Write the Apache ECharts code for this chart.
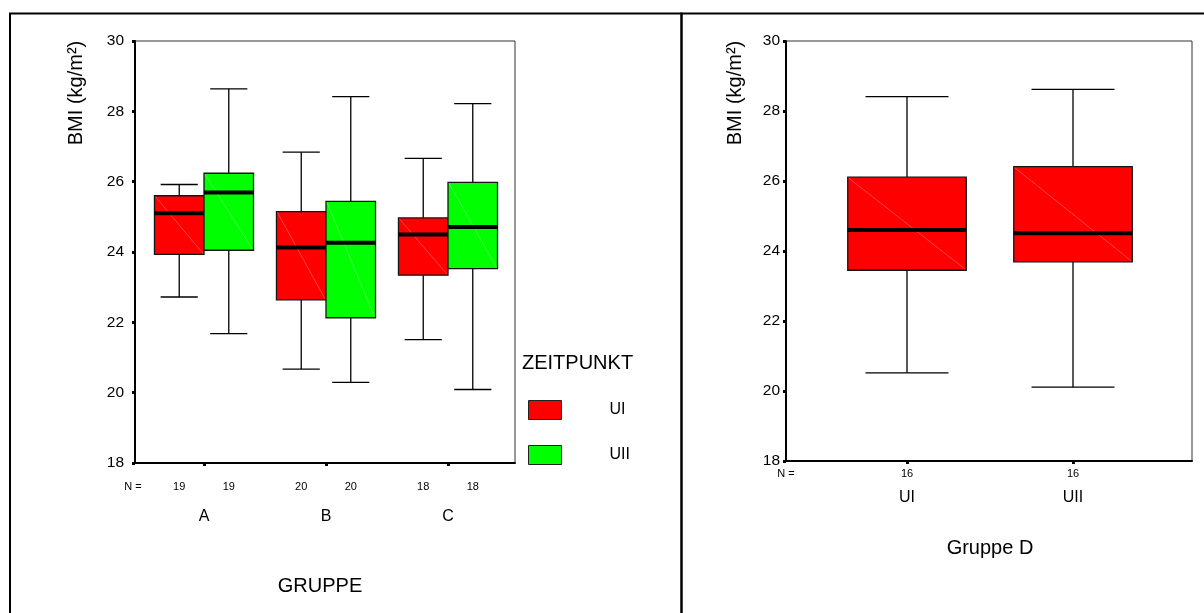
<!DOCTYPE html>
<html>
<head>
<meta charset="utf-8">
<script src="https://cdn.jsdelivr.net/npm/echarts@6/dist/echarts.min.js"></script>
<style>
  html, body { margin: 0; padding: 0; background: #fff; }
  #chart { width: 1204px; height: 613px; }
</style>
</head>
<body>
<div id="chart"></div>
<script>
// BMI by group (A, B, C) at two time points, plus group D on its own
const groups = ['A', 'B', 'C'];
// five-number summaries: [whisker low, Q1, median, Q3, whisker high]
const bmiUI  = [[22.72, 23.93, 25.10, 25.60, 25.92],
                [20.67, 22.64, 24.13, 25.15, 26.84],
                [21.51, 23.34, 24.50, 24.97, 26.66]];
const bmiUII = [[21.68, 24.05, 25.69, 26.24, 28.64],
                [20.29, 22.13, 24.26, 25.44, 28.42],
                [20.09, 23.53, 24.71, 25.98, 28.22]];
const nUI  = [19, 20, 18];
const nUII = [19, 20, 18];

const timepoints = ['UI', 'UII'];
const bmiGroupD = [[20.52, 23.45, 24.60, 26.11, 28.41],
                   [20.11, 23.69, 24.51, 26.41, 28.62]];
const nGroupD = [16, 16];

const yTicks = { min: 18, max: 30, interval: 2 };

const FONT = "'Liberation Sans', Arial, sans-serif";
const RED = '#ff0000';
const GREEN = '#00ff00';

function rows(stats, counts) {
  return stats.map((s, i) => [i].concat(s, [counts[i]]));
}

// Box-and-whisker glyph drawn through the cartesian scales
function boxRenderer(boxFrac, shift, capFrac, nGap, fill) {
  return function (params, api) {
    const cat = api.value(0);
    const lo = api.value(1), q1 = api.value(2), med = api.value(3),
          q3 = api.value(4), hi = api.value(5), n = api.value(6);
    const band = api.size([1, 0])[0];
    const bw = band * boxFrac;
    const cx = api.coord([cat, med])[0] + shift * bw / 2;
    const yLo = api.coord([cat, lo])[1];
    const yQ1 = api.coord([cat, q1])[1];
    const yMed = api.coord([cat, med])[1];
    const yQ3 = api.coord([cat, q3])[1];
    const yHi = api.coord([cat, hi])[1];
    const cw = bw * capFrac;
    const cs = params.coordSys;
    const axisY = cs.y + cs.height;
    const x0 = cx - bw / 2, x1 = cx + bw / 2;
    const wStyle = { stroke: '#000', lineWidth: 1.3 };
    return {
      type: 'group',
      children: [
        { type: 'line', shape: { x1: cx, y1: yQ3, x2: cx, y2: yHi }, style: wStyle },
        { type: 'line', shape: { x1: cx - cw / 2, y1: yHi, x2: cx + cw / 2, y2: yHi }, style: wStyle },
        { type: 'line', shape: { x1: cx, y1: yQ1, x2: cx, y2: yLo }, style: wStyle },
        { type: 'line', shape: { x1: cx - cw / 2, y1: yLo, x2: cx + cw / 2, y2: yLo }, style: wStyle },
        { type: 'rect', shape: { x: x0, y: yQ3, width: bw, height: yQ1 - yQ3 },
          style: { fill: fill, stroke: '#151515', lineWidth: 1.3 } },
        { type: 'line', shape: { x1: x0 + 1, y1: yQ3 + 1, x2: x1 - 1, y2: yQ1 - 1 },
          style: { stroke: 'rgba(255,255,255,0.45)', lineWidth: 0.6 } },
        { type: 'line', shape: { x1: x0, y1: yMed, x2: x1, y2: yMed },
          style: { stroke: '#000', lineWidth: 4 } },
        { type: 'text', x: cx, y: axisY + nGap,
          style: { text: String(n), fill: '#000', font: '11px ' + FONT,
                   align: 'center', verticalAlign: 'middle' } }
      ]
    };
  };
}

const valueAxisBase = {
  type: 'value', min: yTicks.min, max: yTicks.max, interval: yTicks.interval,
  splitLine: { show: false }
};

function shownYAxis(gridIndex, margin) {
  return Object.assign({}, valueAxisBase, {
    gridIndex: gridIndex,
    axisLine: { show: true, lineStyle: { color: '#000', width: 2 } },
    axisTick: { show: true, length: 3, lineStyle: { color: '#000', width: 3 } },
    axisLabel: { color: '#000', fontSize: 15.5, fontFamily: FONT, margin: margin }
  });
}
function hiddenYAxis(gridIndex) {
  return Object.assign({}, valueAxisBase, { gridIndex: gridIndex, show: false });
}
function frameXAxis(gridIndex) {
  return {
    type: 'value', gridIndex: gridIndex, min: 0, max: 1,
    axisLine: { show: true, onZero: false, lineStyle: { color: '#000', width: 2 } },
    axisTick: { show: false }, axisLabel: { show: false }, splitLine: { show: false }
  };
}
function categoryXAxis(gridIndex, cats, margin) {
  return {
    type: 'category', gridIndex: gridIndex, data: cats,
    axisLine: { show: false },
    axisTick: { show: true, alignWithLabel: true, length: 3,
                lineStyle: { color: '#000', width: 3 } },
    axisLabel: { color: '#000', fontSize: 16, fontFamily: FONT, margin: margin },
    splitLine: { show: false }
  };
}

const textStyle = (size) => ({ fill: '#000', font: size + 'px ' + FONT });

const option = {
  animation: false,
  backgroundColor: '#fff',
  grid: [
    { left: 135, top: 41, width: 380, height: 422, show: true,
      borderColor: '#333', borderWidth: 1, backgroundColor: 'transparent' },
    { left: 143, top: 41, width: 366, height: 422 },
    { left: 786, top: 41, width: 406, height: 420, show: true,
      borderColor: '#333', borderWidth: 1, backgroundColor: 'transparent' },
    { left: 824, top: 41, width: 332, height: 420 }
  ],
  xAxis: [
    frameXAxis(0),
    categoryXAxis(1, groups, 46),
    frameXAxis(2),
    categoryXAxis(3, timepoints, 29)
  ],
  yAxis: [
    shownYAxis(0, 11),
    hiddenYAxis(1),
    shownYAxis(2, 6),
    hiddenYAxis(3)
  ],
  legend: {
    data: ['UI', 'UII'],
    orient: 'vertical',
    left: 528, top: 400,
    padding: 0,
    itemWidth: 33, itemHeight: 19, itemGap: 25,
    icon: 'rect',
    selectedMode: false,
    itemStyle: { borderColor: '#222', borderWidth: 1 },
    textStyle: { color: '#000', fontSize: 16, fontFamily: FONT, padding: [0, 0, 0, 43] }
  },
  series: [
    { type: 'custom', name: 'UI', xAxisIndex: 1, yAxisIndex: 1, clip: false,
      itemStyle: { color: RED },
      encode: { x: 0, y: [1, 2, 3, 4, 5] },
      renderItem: boxRenderer(0.406, -1, 0.75, 24, RED),
      data: rows(bmiUI, nUI) },
    { type: 'custom', name: 'UII', xAxisIndex: 1, yAxisIndex: 1, clip: false,
      itemStyle: { color: GREEN },
      encode: { x: 0, y: [1, 2, 3, 4, 5] },
      renderItem: boxRenderer(0.406, 1, 0.75, 24, GREEN),
      data: rows(bmiUII, nUII) },
    { type: 'custom', name: 'Gruppe D', xAxisIndex: 3, yAxisIndex: 3, clip: false,
      itemStyle: { color: RED },
      encode: { x: 0, y: [1, 2, 3, 4, 5] },
      renderItem: boxRenderer(0.714, 0, 0.7, 13, RED),
      data: rows(bmiGroupD, nGroupD) }
  ],
  graphic: [
    // panel frames
    { type: 'rect', shape: { x: 10, y: 13.5, width: 671.5, height: 700 },
      style: { fill: 'none', stroke: '#000', lineWidth: 2 }, silent: true },
    { type: 'rect', shape: { x: 681.5, y: 13.5, width: 600, height: 700 },
      style: { fill: 'none', stroke: '#000', lineWidth: 2 }, silent: true },
    // left panel texts
    { type: 'text', x: 76, y: 93, rotation: Math.PI / 2,
      style: Object.assign(textStyle(20), { text: 'BMI (kg/m²)', align: 'center', verticalAlign: 'middle' }) },
    { type: 'text', x: 133, y: 487,
      style: Object.assign(textStyle(11), { text: 'N =', align: 'center', verticalAlign: 'middle' }) },
    { type: 'text', x: 320, y: 586,
      style: Object.assign(textStyle(20), { text: 'GRUPPE', align: 'center', verticalAlign: 'middle' }) },
    { type: 'text', x: 522, y: 363,
      style: Object.assign(textStyle(20), { text: 'ZEITPUNKT', align: 'left', verticalAlign: 'middle' }) },
    // right panel texts
    { type: 'text', x: 735, y: 93, rotation: Math.PI / 2,
      style: Object.assign(textStyle(20), { text: 'BMI (kg/m²)', align: 'center', verticalAlign: 'middle' }) },
    { type: 'text', x: 786, y: 474,
      style: Object.assign(textStyle(11), { text: 'N =', align: 'center', verticalAlign: 'middle' }) },
    { type: 'text', x: 990, y: 548,
      style: Object.assign(textStyle(20), { text: 'Gruppe D', align: 'center', verticalAlign: 'middle' }) }
  ]
};

const chart = echarts.init(document.getElementById('chart'), null, { renderer: 'canvas' });
chart.setOption(option);
</script>
</body>
</html>
